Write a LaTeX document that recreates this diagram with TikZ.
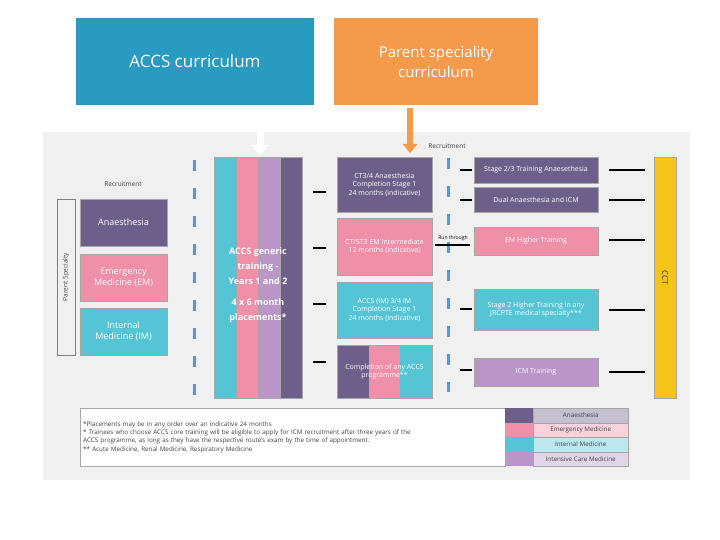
\documentclass[tikz,border=0pt]{standalone}
\usepackage{fontspec}
\setmainfont{Open Sans}
\usetikzlibrary{arrows.meta}
\definecolor{dp}{HTML}{6E5F8A}
\definecolor{pk}{HTML}{EF8FA8}
\definecolor{cy}{HTML}{55C4D4}
\definecolor{lv}{HTML}{B995C8}
\definecolor{yl}{HTML}{F5C518}
\definecolor{bl}{HTML}{2A9BC0}
\definecolor{og}{HTML}{F5994A}
\definecolor{pn}{HTML}{F0F0F0}
\tikzset{x=1pt,y=-1pt,
 bx/.style={draw=gray!70,line width=0.6pt,text=white,align=center,font=\fontsize{7}{8.5}\selectfont},
 dsh/.style={line width=2.5pt,black},
 vd/.style={cyan!60!blue!70,line width=3pt,dash pattern=on 11pt off 17pt},
 sm/.style={font=\fontsize{6.5}{8}\selectfont,text=black!75}}
\begin{document}
\begin{tikzpicture}
\useasboundingbox (0,0) rectangle (720,540);
\fill[white] (0,0) rectangle (720,540);
\fill[pn] (43,132) rectangle (690,480);
% top boxes
\node[fill=bl,minimum width=238pt,minimum height=87pt,text=white,font=\fontsize{17}{20}\selectfont] (accs) at (195,61.5) {ACCS curriculum};
\node[fill=og,minimum width=204pt,minimum height=87pt,text=white,align=center,font=\fontsize{15}{20}\selectfont] (par) at (436,61.5) {Parent speciality\\curriculum};
\coordinate (ab) at (260,155);
\coordinate (ob) at (410,153);
\draw[-{Triangle[length=10pt,width=18pt]},line width=7pt,bl,draw=white] (260,106) -- (ab);
\draw[-{Triangle[length=9pt,width=14pt]},line width=6pt,og] (410,108) -- (ob);
% left
\node[sm] (rec1) at (123,184) {Recruitment};
\node[draw=gray,fill=pn,minimum width=156pt,minimum height=18pt,rotate=90,font=\fontsize{6.5}{8}\selectfont,text=black!70] (ps) at (66,277) {Parent Specialty};
\node[bx,fill=dp,minimum width=87pt,minimum height=47pt,font=\fontsize{9}{11}\selectfont] (an) at (123.5,222.5) {Anaesthesia};
\node[bx,fill=pk,minimum width=87pt,minimum height=47pt,font=\fontsize{9}{11}\selectfont] (em) at (123.5,277.5) {Emergency\\Medicine (EM)};
\node[bx,fill=cy,minimum width=87pt,minimum height=47pt,font=\fontsize{9}{11}\selectfont] (im) at (123.5,331.5) {Internal\\Medicine (IM)};
\draw[vd] (194,160) -- (194,395);
% columns
\fill[cy] (214,157) rectangle (236,398);
\fill[pk] (236,157) rectangle (258,398);
\fill[lv] (258,157) rectangle (280,398);
\fill[dp] (280,157) rectangle (302,398);
\draw[gray!70] (214,157) rectangle (302,398);
\foreach \x in {236,258,280} \draw[gray!70] (\x,157) -- (\x,398);
\node[text=white,align=center,font=\bfseries\fontsize{9}{15}\selectfont] (gen) at (258,285) {ACCS generic\\training -\\Years 1 and 2\\[6pt]4 x 6 month\\placements*};
\foreach \y in {192,248,304,362} \draw[dsh] (313,\y) -- (326,\y);
% middle
\node[bx,fill=dp,minimum width=95pt,minimum height=55pt] (ct) at (384.5,184.5) {CT3/4 Anaesthesia\\Completion Stage 1\\24 months (indicative)};
\node[bx,fill=pk,minimum width=95pt,minimum height=57pt] (ctem) at (384.5,246.5) {CT/ST3 EM Intermediate\\12 months (indicative)};
\node[bx,fill=cy,minimum width=95pt,minimum height=56pt] (aim) at (384.5,310) {ACCS (IM) 3/4 IM\\Completion Stage 1\\24 months (indicative)};
\fill[dp] (337,345) rectangle (369,398);
\fill[pk] (369,345) rectangle (400,398);
\fill[cy] (400,345) rectangle (432,398);
\node[bx,minimum width=95pt,minimum height=53pt] (comp) at (384.5,371.5) {Completion of any ACCS\\programme**};
\node[sm] (rec2) at (447,146) {Recruitment};
\draw[vd] (448,158) -- (448,392);
\foreach \y in {170,200,309,370} \draw[dsh] (460,\y) -- (472,\y);
\draw[dsh] (435,245) -- (470,245);
\node[font=\fontsize{5}{6}\selectfont] (rt) at (453,238) {Run through};
% right
\node[bx,fill=dp,minimum width=124pt,minimum height=26pt] (s23) at (536,170) {Stage 2/3 Training Anaesethesia};
\node[bx,fill=dp,minimum width=124pt,minimum height=25pt] (dual) at (536,199.5) {Dual Anaesthesia and ICM};
\node[bx,fill=pk,minimum width=124pt,minimum height=28pt] (emh) at (536,241) {EM Higher Training};
\node[bx,fill=cy,minimum width=124pt,minimum height=41pt] (s2) at (536,309.5) {Stage 2 Higher Training in any\\JRCPTE medical specialty***};
\node[bx,fill=lv,minimum width=124pt,minimum height=28pt] (icm) at (536,372) {ICM Training};
\foreach \y in {170,200,240,310,372} \draw[dsh] (609,\y) -- (645,\y);
\node[draw=gray!70,fill=yl,minimum width=241pt,minimum height=22pt,rotate=-90,font=\fontsize{8}{10}\selectfont,text=black!80] (cct) at (665,277.5) {CCT};
% footnote
\node[draw=gray!70,fill=white,minimum width=425pt,minimum height=58pt,align=left,anchor=north west,inner sep=3pt,font=\fontsize{6.3}{8.3}\selectfont,text=black!75,text width=419pt] (fn) at (80,408) {*Placements may be in any order over an indicative 24 months\\** Trainees who choose ACCS core training will be eligible to apply for ICM recruitment after three years of the\\ACCS programme, as long as they have the respective route's exam by the time of appointment.\\*** Acute Medicine, Renal Medicine, Respiratory Medicine};
\foreach \c/\l/\i in {dp/Anaesthesia/0,pk/Emergency Medicine/1,cy/Internal Medicine/2,lv/Intensive Care Medicine/3}{
 \fill[\c] (505,408+14.5*\i) rectangle (533,422.5+14.5*\i);
 \node[draw=gray!70,fill=\c!40,minimum width=95pt,minimum height=14.5pt,inner sep=0pt,font=\fontsize{6.3}{7}\selectfont,text=black!75,anchor=north west] (lg\i) at (533,408+14.5*\i) {\l};
}
\end{tikzpicture}
\end{document}
